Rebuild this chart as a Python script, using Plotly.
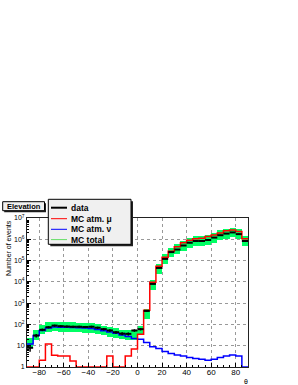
import numpy as np
import plotly.graph_objects as go

# ---- data (5-degree bins from -90 to 90) ----
edges = list(range(-90, 95, 5))
centers = [e + 2.5 for e in edges[:-1]]

data = [8, 30, 56, 74, 88, 83, 80, 78, 78, 76, 78, 70, 60, 52, 43, 37, 36, 52,
        60, 430, 8000, 45000, 1.2e5, 2.5e5, 3.3e5, 5.1e5, 6.9e5, 8.3e5, 8.3e5,
        9.3e5, 1.2e6, 1.55e6, 1.85e6, 2.1e6, 1.75e6, 8.3e5]
mc_mu = [0, 0, 2.1, 12, 3.6, 3.3, 3.3, 1.9, 0, 0, 0, 0, 0, 3.3, 0, 0, 3.3, 7,
         35, 460, 9500, 54000, 1.45e5, 2.75e5, 4.5e5, 6.9e5, 8.9e5, 1.07e6,
         1.12e6, 1.35e6, 1.6e6, 1.95e6, 2.5e6, 2.7e6, 2.35e6, 1.07e6]
mc_nu = [12, 30, 52, 68, 75, 74, 73, 72, 70, 68, 64, 57, 50, 44, 38, 32, 27, 22,
         20, 14, 9, 7.4, 5.4, 4.3, 3.7, 3.3, 2.8, 2.5, 2.3, 2.1, 2.3, 2.8, 3.3,
         3.7, 3.3, 0]
mc_total = [14, 32, 58, 78, 80, 78, 76, 74, 72, 70, 66, 60, 52, 46, 40, 34, 31,
            32, 52, 300, 7300, 42000, 1.15e5, 2.4e5, 3.4e5, 5.0e5, 6.8e5, 8.2e5,
            8.4e5, 9.5e5, 1.2e6, 1.55e6, 1.85e6, 2.1e6, 1.8e6, 8.5e5]
mc_total_band = 1.7   # multiplicative band (log-symmetric)

xtick_vals = [-80, -60, -40, -20, 0, 20, 40, 60, 80]
ytick_vals = [1, 10, 100, 1e3, 1e4, 1e5, 1e6, 1e7]
ytick_text = ["1", "10", "10<sup>2</sup>", "10<sup>3</sup>", "10<sup>4</sup>",
              "10<sup>5</sup>", "10<sup>6</sup>", "10<sup>7</sup>"]

# ---- geometry helpers (pixel -> paper) ----
L, R, T, B = 27, 248, 218, 367
def px(x):
    return (x - L) / (R - L)
def py(y):
    return (B - y) / (B - T)

FONT = "Liberation Sans"
green = "rgb(0,255,100)"

fig = go.Figure()

tot = np.array(mc_total, dtype=float)
lo = tot / mc_total_band
hi = tot * mc_total_band
fig.add_trace(go.Bar(
    x=centers, y=hi - lo, base=lo,
    width=5, marker=dict(color=green, line=dict(width=0)), showlegend=False,
    hoverinfo="skip"))

def step(vals):
    v = np.maximum(np.array(vals, dtype=float), 1.0)
    return list(v) + [v[-1]]

fig.add_trace(go.Scatter(x=edges, y=step(mc_nu), mode="lines",
                         line=dict(color="#0000ff", width=1.5, shape="hv"),
                         showlegend=False))
fig.add_trace(go.Scatter(x=edges, y=step(mc_mu), mode="lines",
                         line=dict(color="#ff0000", width=1.5, shape="hv"),
                         showlegend=False))
d = np.array(data, dtype=float)
fig.add_trace(go.Scatter(
    x=centers, y=data, mode="markers", marker=dict(size=1, color="black"),
    error_x=dict(type="constant", value=2.5, width=0, thickness=2, color="black"),
    error_y=dict(type="data", array=list(np.sqrt(d)), width=0, thickness=1.5,
                 color="black"),
    showlegend=False))

shapes = []
annotations = []

def box(x0, y0, x1, y1, shadow=2):
    shapes.append(dict(type="rect", xref="paper", yref="paper",
                       x0=px(x0 + shadow), x1=px(x1 + shadow),
                       y0=py(y0 + shadow), y1=py(y1 + shadow),
                       fillcolor="#222", line=dict(width=0), layer="above"))
    shapes.append(dict(type="rect", xref="paper", yref="paper",
                       x0=px(x0), x1=px(x1), y0=py(y0), y1=py(y1),
                       fillcolor="#f0f0f0", line=dict(color="black", width=1),
                       layer="above"))

box(2.7, 201.7, 44.5, 210.7, shadow=1.5)
annotations.append(dict(text="<b>Elevation</b>", xref="paper", yref="paper",
                        x=px(23.6), y=py(206.3), showarrow=False,
                        font=dict(family=FONT, size=7.5, color="black"),
                        xanchor="center", yanchor="middle"))

box(48.3, 199.3, 131, 244.3, shadow=2)
leg = [("data", "black", 2), ("MC atm. μ", "#ff0000", 1),
       ("MC atm. ν", "#0000ff", 1), ("MC total", "#66dd66", 1)]
rows = [207.7, 218.7, 229.3, 239.6]
for (lab, col, w), yy in zip(leg, rows):
    shapes.append(dict(type="line", xref="paper", yref="paper",
                       x0=px(51), x1=px(67), y0=py(yy), y1=py(yy),
                       line=dict(color=col, width=w), layer="above"))
    annotations.append(dict(text="<b>" + lab + "</b>", xref="paper", yref="paper",
                            x=px(68.5), y=py(yy), showarrow=False,
                            font=dict(family=FONT, size=8.5, color="black"),
                            xanchor="left", yanchor="middle"))

annotations.append(dict(text="Number of events", xref="paper", yref="paper",
                        x=px(8), y=py(218), textangle=-90, showarrow=False,
                        font=dict(family=FONT, size=7, color="black"),
                        xanchor="center", yanchor="top"))
annotations.append(dict(text="θ", xref="paper", yref="paper",
                        x=px(246), y=py(381), showarrow=False,
                        font=dict(family=FONT, size=7, color="black"),
                        xanchor="center", yanchor="middle"))

fig.update_layout(
    width=298, height=385,
    margin=dict(l=L, r=298 - R, t=T, b=385 - B),
    paper_bgcolor="white", plot_bgcolor="white",
    barmode="overlay", bargap=0,
    shapes=shapes, annotations=annotations,
    font=dict(family=FONT, size=8, color="black"),
    xaxis=dict(range=[-90, 90], tickvals=xtick_vals, ticks="inside", ticklen=4,
               tickcolor="black", showline=True, linecolor="#222", linewidth=1,
               mirror=True, showgrid=True, gridcolor="#999", griddash="dot",
               gridwidth=1, zeroline=False, automargin=False,
               ticklabelstandoff=-3,
               minor=dict(ticks="inside", ticklen=2, dtick=5, tickcolor="black"),
               tickfont=dict(family=FONT, size=8, color="black")),
    yaxis=dict(type="log", range=[0, 7], tickvals=ytick_vals, ticktext=ytick_text,
               ticks="inside", ticklen=4, tickcolor="black", showline=True,
               linecolor="#222", linewidth=1, mirror=True, showgrid=True,
               gridcolor="#999", griddash="dot", gridwidth=1, zeroline=False,
               automargin=False,
               minor=dict(ticks="inside", ticklen=2, dtick="D1", tickcolor="black"),
               tickfont=dict(family=FONT, size=7, color="black")),
)

fig.write_html(
    "out.html",
    config={"displayModeBar": False},
    post_script="document.body.style.margin='0px';document.body.style.overflow='hidden';",
)
